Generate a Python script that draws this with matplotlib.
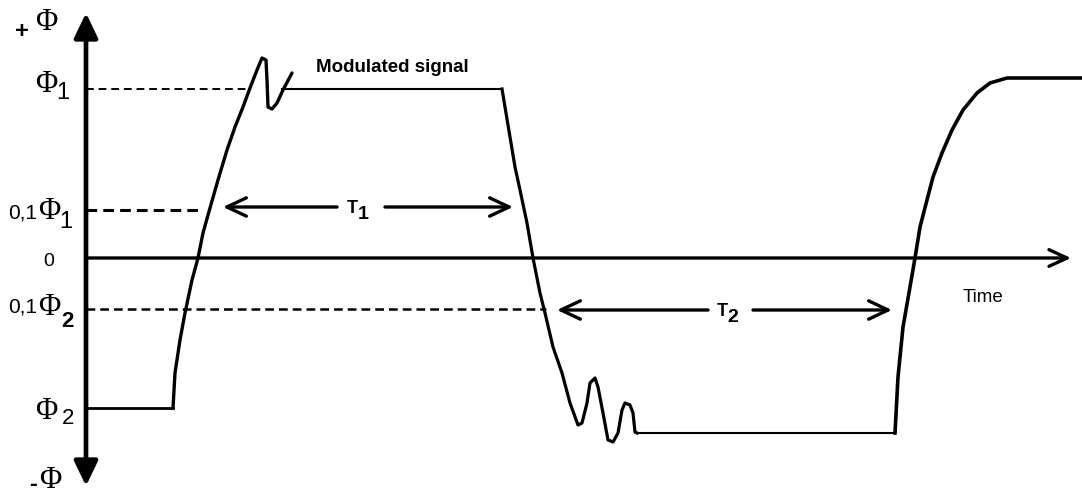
import matplotlib
matplotlib.use("Agg")
import matplotlib.pyplot as plt

# ---- diagram data (pixel-like coordinate system, y grows downward) ----
axis_x = 86
zero_y = 258
axis_top, axis_bottom = 13, 486
time_axis_end = 1071

level_phi1 = 89
level_01phi1 = 210
level_01phi2 = 309
level_phi2 = 408

# rising edge with overshoot (first transition)
rise1_x = [86, 173, 175, 180, 185, 192, 198, 203, 210, 218, 227, 235, 243, 250, 257, 262,
           266, 267, 268, 272, 277, 283, 292]
rise1_y = [408, 408, 373, 340, 313, 280, 258, 233, 208, 180, 150, 127, 107, 88, 70, 58,
           60, 80, 107, 109, 103, 90, 73]

# Φ1 plateau
plateau1_x = [282, 502]
plateau1_y = [89, 89]

# falling edge with ringing
fall_x = [502, 505, 510, 515, 520, 527, 533, 540, 545, 553, 562, 570, 578, 582, 587, 590,
          595, 598, 603, 608, 613, 618, 622, 625, 630, 633, 635, 637]
fall_y = [89, 107, 137, 167, 190, 223, 258, 293, 313, 347, 373, 403, 425, 423, 403, 383,
          378, 387, 413, 440, 442, 433, 410, 403, 405, 413, 432, 433]

# Φ2 plateau
plateau2_x = [637, 895]
plateau2_y = [433, 433]

# final rise
rise2_x = [895, 898, 903, 910, 915, 920, 927, 933, 942, 952, 963, 977, 990, 1007, 1082]
rise2_y = [433, 377, 327, 287, 258, 227, 200, 177, 153, 130, 110, 93, 83, 78, 78]

dash_phi1 = (250, level_phi1)
dash_01phi1 = (201, level_01phi1)
dash_01phi2 = (546, level_01phi2)

# duration arrows: (left tip, gap start, gap end, right tip, y)
t1_span = (223, 337, 385, 513, 207)
t2_span = (557, 708, 753, 892, 310)

fig = plt.figure(figsize=(10.82, 4.94), dpi=100)
ax = fig.add_axes([0, 0, 1, 1])
ax.set_xlim(0, 1082)
ax.set_ylim(494, 0)
ax.axis("off")

K = "black"
SANS = "Liberation Sans"
SERIF = "Liberation Serif"

ax.annotate("", xy=(axis_x, axis_top), xytext=(axis_x, axis_bottom),
            arrowprops=dict(arrowstyle="<|-|>,head_length=0.75,head_width=0.36",
                            lw=3.4, color=K, shrinkA=0, shrinkB=0, mutation_scale=20))
ax.annotate("", xy=(time_axis_end, zero_y), xytext=(axis_x, zero_y),
            arrowprops=dict(arrowstyle="->,head_length=0.65,head_width=0.3",
                            lw=2.4, color=K, shrinkA=0, shrinkB=0, mutation_scale=20))

ax.plot([axis_x, dash_phi1[0]], [dash_phi1[1]] * 2, color=K, lw=1.4, ls=(0, (4, 2.5)))
ax.plot([axis_x, dash_01phi1[0]], [dash_01phi1[1]] * 2, color=K, lw=2.2, ls=(0, (3.5, 2)))
ax.plot([axis_x, dash_01phi2[0]], [dash_01phi2[1]] * 2, color=K, lw=1.8, ls=(0, (3.5, 2)))

ax.plot(rise1_x[:2], rise1_y[:2], color=K, lw=2.0)
ax.plot(rise1_x[1:], rise1_y[1:], color=K, lw=2.4, solid_joinstyle="round",
        solid_capstyle="round")
ax.plot(plateau1_x, plateau1_y, color=K, lw=1.5)
ax.plot(fall_x, fall_y, color=K, lw=2.3, solid_joinstyle="round")
ax.plot(plateau2_x, plateau2_y, color=K, lw=1.5)
ax.plot(rise2_x, rise2_y, color=K, lw=2.6, solid_joinstyle="round")

for (xa, ga, gb, xb, y), sub in [(t1_span, "1"), (t2_span, "2")]:
    for tip, tail in [(xa, ga), (xb, gb)]:
        ax.annotate("", xy=(tip, y), xytext=(tail, y),
                    arrowprops=dict(arrowstyle="->,head_length=0.7,head_width=0.33",
                                    lw=2.4, color=K, shrinkA=0, shrinkB=0,
                                    mutation_scale=20))
    xc = (ga + gb) / 2
    ax.text(xc - 3, y + 1, "T", ha="right", va="center", fontsize=13, fontweight="bold",
            family=SANS, color=K)
    ax.text(xc - 3, y + 7, sub, ha="left", va="center", fontsize=14, fontweight="bold",
            family=SANS, color=K)

ax.text(316, 68, "Modulated signal", ha="left", va="center", fontsize=13.5,
        fontweight="bold", family=SANS, color=K)
ax.text(963, 297, "Time", ha="left", va="center", fontsize=13.5, family=SANS, color=K)

phi_fs = 22
ax.text(22, 32, "+", ha="center", va="center", fontsize=17, fontweight="bold", family=SANS)
ax.text(46, 22, "Φ", ha="center", va="center", fontsize=phi_fs, family=SERIF)
ax.text(46, 85, "Φ", ha="center", va="center", fontsize=phi_fs, family=SERIF)
ax.text(63, 93, "1", ha="center", va="center", fontsize=17, family=SANS)
ax.text(23, 213, "0,1", ha="center", va="center", fontsize=15, family=SANS)
ax.text(49, 211, "Φ", ha="center", va="center", fontsize=phi_fs, family=SERIF)
ax.text(66, 222, "1", ha="center", va="center", fontsize=17, family=SANS)
ax.text(49, 261, "0", ha="center", va="center", fontsize=14, family=SANS)
ax.text(23, 307, "0,1", ha="center", va="center", fontsize=15, family=SANS)
ax.text(49, 307, "Φ", ha="center", va="center", fontsize=phi_fs, family=SERIF)
ax.text(67, 321, "2", ha="center", va="center", fontsize=16, fontweight="bold", family=SANS)
ax.text(46, 411, "Φ", ha="center", va="center", fontsize=phi_fs, family=SERIF)
ax.text(68, 418, "2", ha="center", va="center", fontsize=16, family=SANS)
ax.text(33, 484, "-", ha="center", va="center", fontsize=17, fontweight="bold", family=SANS)
ax.text(50, 480, "Φ", ha="center", va="center", fontsize=phi_fs, family=SERIF)

fig.savefig("out.png", dpi=100, facecolor="white")
